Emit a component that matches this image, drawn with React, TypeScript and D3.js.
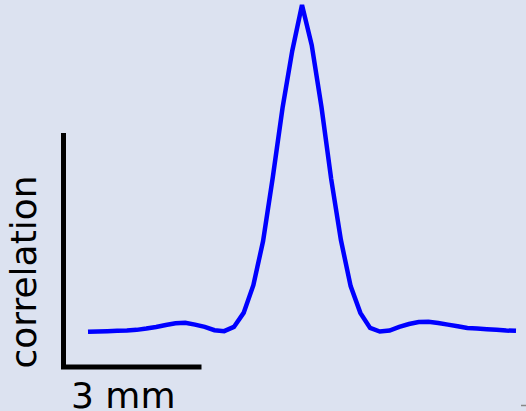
import React, { useEffect, useRef } from 'react';
import * as d3 from 'd3';

// spatial correlation profile, one sample per step, peak normalised to 1
const correlation = [
  -0.001, 0.0, 0.001, 0.002, 0.003, 0.005, 0.009, 0.014, 0.02, 0.025, 0.027,
  0.021, 0.014, 0.004, 0.001, 0.014, 0.057, 0.142, 0.277, 0.473, 0.685, 0.86,
  1.0, 0.877, 0.688, 0.467, 0.28, 0.139, 0.057, 0.011, 0.0, 0.003, 0.014,
  0.023, 0.029, 0.03, 0.026, 0.021, 0.016, 0.011, 0.009, 0.007, 0.005, 0.003,
  0.002,
];

const scaleBarLabel = '3 mm';
const yAxisLabel = 'correlation';

const width = 526;
const height = 411;

export default function App() {
  const ref = useRef<SVGSVGElement | null>(null);

  useEffect(() => {
    const svg = d3.select(ref.current);
    svg.selectAll('*').remove();

    svg.append('rect')
      .attr('width', width)
      .attr('height', height)
      .attr('fill', '#dce2f0');

    const x = d3.scaleLinear()
      .domain([0, correlation.length - 1])
      .range([88, 516]);

    const y = d3.scaleLinear()
      .domain([0, 1])
      .range([331.5, 5]);

    const line = d3.line<number>()
      .x((d, i) => x(i))
      .y(d => y(d));

    svg.append('path')
      .datum(correlation)
      .attr('fill', 'none')
      .attr('stroke', '#0000ff')
      .attr('stroke-width', 4.5)
      .attr('stroke-linejoin', 'miter')
      .attr('d', line);

    // scale bar (L shape)
    svg.append('path')
      .attr('fill', 'none')
      .attr('stroke', '#000')
      .attr('stroke-width', 5)
      .attr('stroke-linejoin', 'miter')
      .attr('d', 'M63.5,133 L63.5,367 L201.5,367');

    svg.append('text')
      .attr('x', 71)
      .attr('y', 408)
      .attr('font-family', 'DejaVu Sans, sans-serif')
      .attr('font-size', 36)
      .attr('fill', '#000')
      .text(scaleBarLabel);

    svg.append('text')
      .attr('transform', 'translate(36,272) rotate(-90)')
      .attr('text-anchor', 'middle')
      .attr('font-family', 'DejaVu Sans, sans-serif')
      .attr('font-size', 36)
      .attr('fill', '#000')
      .text(yAxisLabel);

    // small grey mark at the lower right edge
    svg.append('line')
      .attr('x1', 521)
      .attr('x2', 526)
      .attr('y1', 405.5)
      .attr('y2', 405.5)
      .attr('stroke', '#888')
      .attr('stroke-width', 1.5);
  }, []);

  return (
    <svg
      ref={ref}
      width={width}
      height={height}
      style={{ position: 'absolute', left: 0, top: 0 }}
    />
  );
}
